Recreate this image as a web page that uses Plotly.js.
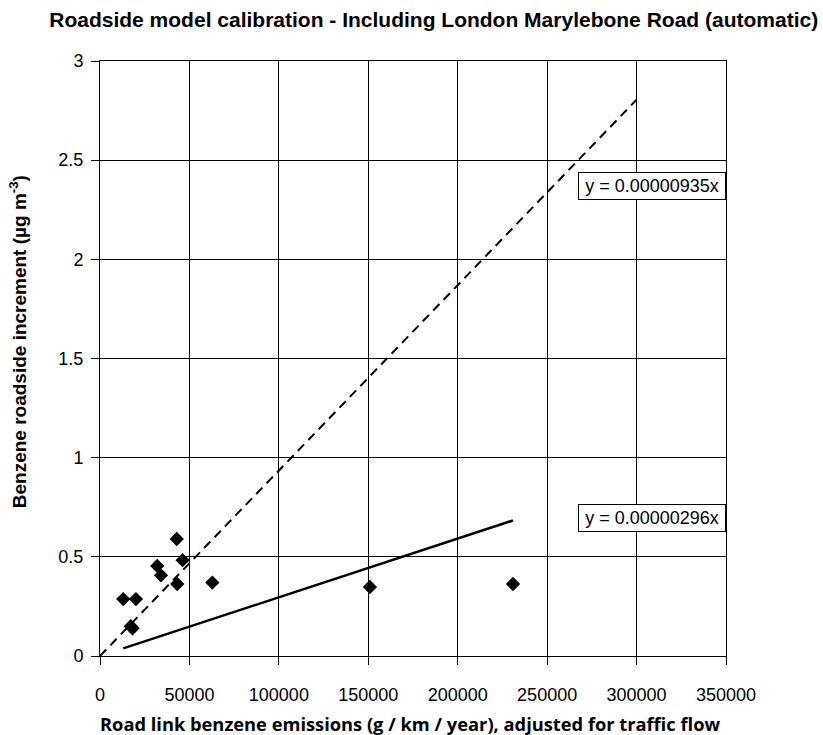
<!DOCTYPE html>
<html>
<head>
<meta charset="utf-8">
<script src="https://cdn.plot.ly/plotly-3.0.1.min.js"></script>
<style>html,body{margin:0;padding:0;background:#fff;}#chart{width:823px;height:735px;}</style>
</head>
<body>
<div id="chart"></div>
<script>
// Observed data (emissions g/km/year, benzene roadside increment µg m-3)
const emissions = [42900, 46200, 32000, 34100, 43200, 62800, 13000, 20100, 17200, 18200, 150900, 230900];
const increment = [0.59, 0.483, 0.454, 0.407, 0.363, 0.37, 0.287, 0.287, 0.15, 0.14, 0.348, 0.363];

// Fitted slopes (lines through origin)
const slopeAll = 0.00000296;   // solid line
const slopeExcl = 0.00000935;  // dashed line
const dashedX = [0, 300000];
const solidX = [13000, 230900];

const xTicks = [0, 50000, 100000, 150000, 200000, 250000, 300000, 350000];
const yTicks = [0, 0.5, 1, 1.5, 2, 2.5, 3];
const labelAll = 'y = 0.00000296x';
const labelExcl = 'y = 0.00000935x';

const traces = [
  {x: dashedX, y: dashedX.map(v => v * slopeExcl), mode: 'lines', type: 'scatter',
   line: {color: '#000', width: 2, dash: '9px,6px'}, hoverinfo: 'skip'},
  {x: solidX, y: solidX.map(v => v * slopeAll), mode: 'lines', type: 'scatter',
   line: {color: '#000', width: 2.5}, hoverinfo: 'skip'},
  {x: emissions, y: increment, mode: 'markers', type: 'scatter',
   marker: {symbol: 'diamond', size: 11, color: '#000'}}
];

const arial = 'Arial, Liberation Sans, sans-serif';
const axisCommon = {
  showline: true, mirror: true, linecolor: '#000', linewidth: 1,
  showgrid: true, gridcolor: '#000', gridwidth: 1,
  ticks: 'outside', ticklen: 8, tickcolor: '#000',
  zeroline: false,
  tickfont: {family: arial, size: 18, color: '#000'}
};

const boxCommon = {xref: 'paper', yref: 'y', x: 1.0, xanchor: 'right', yanchor: 'middle',
  showarrow: false, bgcolor: '#fff', bordercolor: '#000', borderwidth: 1, borderpad: 0,
  width: 146, height: 26, align: 'center',
  font: {family: arial, size: 18, color: '#000'}};

const layout = {
  width: 823, height: 735,
  margin: {l: 100, r: 97, t: 61, b: 79},
  paper_bgcolor: '#fff', plot_bgcolor: '#fff',
  showlegend: false,
  title: {text: '<b>Roadside model calibration - Including London Marylebone Road (automatic)</b>',
          font: {family: arial, size: 21, color: '#000'},
          x: 0.527, xanchor: 'center', xref: 'container', y: 0.973, yanchor: 'middle'},
  xaxis: Object.assign({}, axisCommon, {
    range: [0, 350000], tickvals: xTicks, ticktext: xTicks.map(String), ticklabelstandoff: 14
  }),
  yaxis: Object.assign({}, axisCommon, {
    range: [0, 3], tickvals: yTicks, ticktext: yTicks.map(String), ticklabelstandoff: 4
  }),
  annotations: [
    Object.assign({}, boxCommon, {y: 2.37, text: labelExcl}),
    Object.assign({}, boxCommon, {y: 0.696, text: labelAll}),
    {xref: 'paper', yref: 'paper', x: 0.495, y: -0.114, xanchor: 'center', yanchor: 'middle',
     showarrow: false, text: '<b>Road link benzene emissions (g / km / year), adjusted for traffic flow</b>',
     font: {family: 'Open Sans, Lato, sans-serif', size: 18.3, color: '#000'}},
    {xref: 'paper', yref: 'paper', x: -0.131, y: 0.529, xanchor: 'center', yanchor: 'middle',
     textangle: -90, showarrow: false,
     text: '<b>Benzene roadside increment (µg m<sup>-3</sup>)</b>',
     font: {family: arial, size: 19, color: '#000'}}
  ]
};

Plotly.newPlot('chart', traces, layout, {displayModeBar: false, staticPlot: true});
</script>
</body>
</html>
